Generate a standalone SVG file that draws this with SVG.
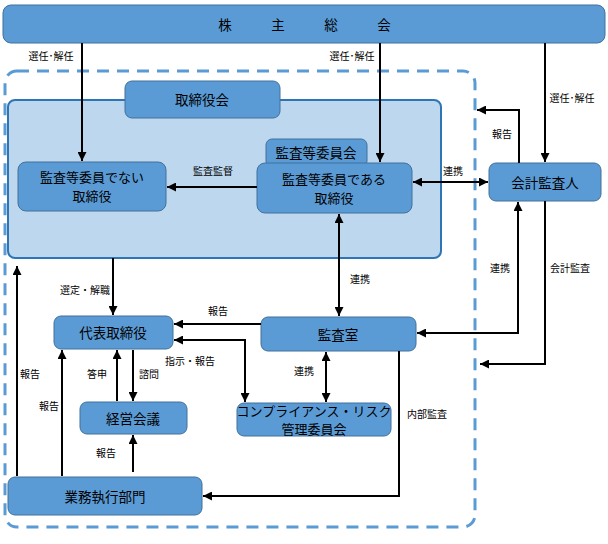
<svg xmlns="http://www.w3.org/2000/svg" width="608" height="544" viewBox="0 0 608 544">
<style>
.node{fill:#5b9bd5;stroke:#41719c;stroke-width:1}
.t{font-family:"Noto Sans CJK JP","Noto Sans",sans-serif;font-size:13.5px;fill:#000;text-anchor:middle;dominant-baseline:central}
.t2{font-family:"Noto Sans CJK JP","Noto Sans",sans-serif;font-size:13px;fill:#000;text-anchor:middle;dominant-baseline:central}
.lb{font-family:"Noto Sans CJK JP","Noto Sans",sans-serif;font-size:10px;fill:#000;text-anchor:middle;dominant-baseline:central}
.c{fill:none;stroke:#000;stroke-width:2}
.e{marker-end:url(#ah)}
.b{marker-start:url(#ah);marker-end:url(#ah)}
</style>
<defs>
<marker id="ah" viewBox="0 0 10 10" refX="10" refY="5" markerWidth="9" markerHeight="9" markerUnits="userSpaceOnUse" orient="auto-start-reverse">
<path d="M0,0 L10,5 L0,10 z" fill="#000"/>
</marker>
</defs>
<rect width="608" height="544" fill="#fff"/>
<g id="shareholders">
<rect class="node" x="3" y="5" width="602" height="38" rx="8"/>
<text class="t" y="24"><tspan x="225">株</tspan><tspan x="278">主</tspan><tspan x="331">総</tspan><tspan x="384">会</tspan></text>
</g>
<rect id="company" x="5" y="71" width="470" height="456" rx="12" fill="none" stroke="#5b9bd5" stroke-width="3" stroke-dasharray="12 8"/>
<g id="board">
<rect x="8" y="100" width="433" height="158" rx="7" fill="#bdd7ee" stroke="#2e75b6" stroke-width="2"/>
</g>
<g id="board-label">
<rect class="node" x="125" y="81" width="155" height="37" rx="7"/>
<text class="t" x="202" y="99">取締役会</text>
</g>
<g id="non-audit-directors">
<rect class="node" x="18" y="162" width="148" height="49" rx="8"/>
<text class="t2" x="92" y="176">監査等委員でない</text>
<text class="t2" x="92" y="195">取締役</text>
</g>
<g id="audit-committee">
<rect class="node" x="266" y="139" width="101" height="28" rx="6"/>
<text class="t" x="316" y="152">監査等委員会</text>
</g>
<g id="audit-directors">
<rect class="node" x="257" y="163" width="155" height="50" rx="8"/>
<text class="t2" x="334" y="178">監査等委員である</text>
<text class="t2" x="334" y="197">取締役</text>
</g>
<g id="accounting-auditor">
<rect class="node" x="489" y="163" width="112" height="38" rx="7"/>
<text class="t" x="545" y="182">会計監査人</text>
</g>
<g id="representative">
<rect class="node" x="54" y="316" width="119" height="33" rx="7"/>
<text class="t" x="113" y="332">代表取締役</text>
</g>
<g id="audit-office">
<rect class="node" x="261" y="317" width="155" height="34" rx="7"/>
<text class="t" x="338" y="334">監査室</text>
</g>
<g id="management-meeting">
<rect class="node" x="80" y="402" width="107" height="32" rx="7"/>
<text class="t" x="133" y="418">経営会議</text>
</g>
<g id="compliance">
<rect class="node" x="237" y="403" width="154" height="33" rx="7"/>
<text class="t2" x="314" y="410">コンプライアンス・リスク</text>
<text class="t2" x="314" y="428">管理委員会</text>
</g>
<g id="operations">
<rect class="node" x="8" y="477" width="194" height="38" rx="7"/>
<text class="t" x="105" y="496">業務執行部門</text>
</g>
<g id="connectors">
<path class="c e" d="M82,43 V161"/>
<path class="c e" d="M380,43 V162"/>
<path class="c e" d="M545,43 V162"/>
<path class="c e" d="M519,163 V110 H477"/>
<path class="c e" d="M257,187 H167"/>
<path class="c b" d="M413,182 H488"/>
<path class="c e" d="M113,258 V315"/>
<path class="c b" d="M339,214 V316"/>
<path class="c e" d="M261,324 H174"/>
<path class="c b" d="M174,340 H245 V402"/>
<path class="c b" d="M326,352 V402"/>
<path class="c e" d="M117,401 V350"/>
<path class="c e" d="M133,350 V401"/>
<path class="c e" d="M62,476 V350"/>
<path class="c e" d="M17,476 V266"/>
<path class="c e" d="M133,472 V435"/>
<path class="c b" d="M417,333 H518 V202"/>
<path class="c e" d="M545,201 V364 H480"/>
<path class="c e" d="M399,351 V496 H203"/>
</g>
<g id="labels">
<text class="lb" x="51" y="55">選任･解任</text>
<text class="lb" x="352" y="55">選任･解任</text>
<text class="lb" x="572" y="97">選任･解任</text>
<text class="lb" x="502" y="133">報告</text>
<text class="lb" x="213" y="170">監査監督</text>
<text class="lb" x="453" y="170">連携</text>
<text class="lb" x="85" y="289">選定・解職</text>
<text class="lb" x="360" y="278">連携</text>
<text class="lb" x="218" y="310">報告</text>
<text class="lb" x="190" y="360">指示・報告</text>
<text class="lb" x="304" y="370">連携</text>
<text class="lb" x="97" y="373">答申</text>
<text class="lb" x="149" y="373">諮問</text>
<text class="lb" x="30" y="373">報告</text>
<text class="lb" x="49" y="405">報告</text>
<text class="lb" x="106" y="452">報告</text>
<text class="lb" x="500" y="267">連携</text>
<text class="lb" x="570" y="267">会計監査</text>
<text class="lb" x="427" y="413">内部監査</text>
</g>
</svg>
